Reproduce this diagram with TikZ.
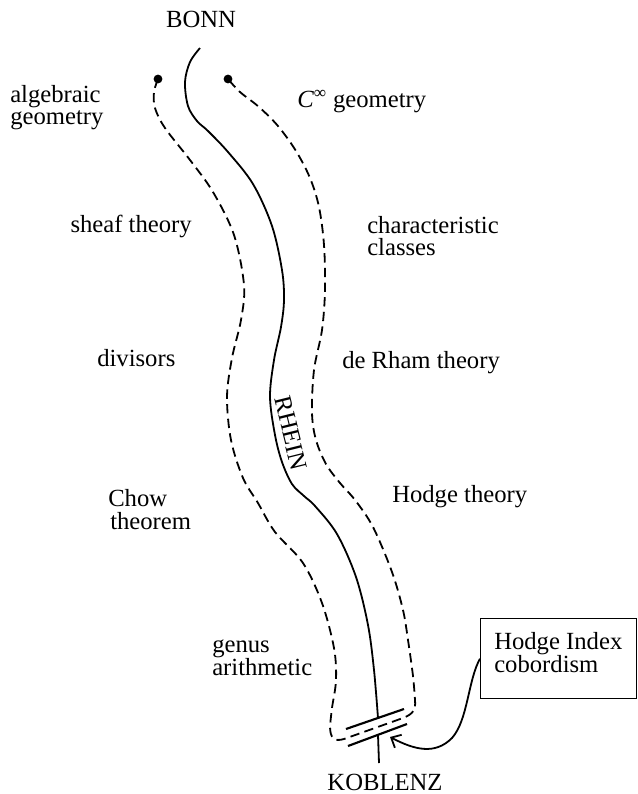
\documentclass[tikz,border=0pt]{standalone}
\usepackage{fontspec}
\setmainfont{Liberation Serif}
\usetikzlibrary{arrows.meta}
\begin{document}
\begin{tikzpicture}[x=0.75pt,y=-0.75pt,
  lbl/.style={inner sep=0pt, font=\fontsize{18.5}{22}\selectfont},
  river/.style={line width=1.35pt},
  bank/.style={line width=1.35pt, dash pattern=on 7pt off 4pt},
  bridge/.style={line width=1.6pt},
  frame/.style={draw, line width=1pt, inner sep=0pt}]
\useasboundingbox (0,0) rectangle (637,794);

% labels
\node[lbl, anchor=base] (bonn) at (201,27) {BONN};
\node[lbl, anchor=base] (koblenz) at (385,790) {KOBLENZ};
\node[lbl, anchor=base west] (alg1) at (10,102) {algebraic};
\node[lbl, anchor=base west] (alg2) at (10,124) {geometry};
\node[lbl, anchor=base west] (cinf) at (297,107) {\textit{C}\textsuperscript{∞} geometry};
\node[lbl, anchor=base east] (sheaf) at (192,232) {sheaf theory};
\node[lbl, anchor=base west] (char1) at (367,233) {characteristic};
\node[lbl, anchor=base west] (char2) at (367,255) {classes};
\node[lbl, anchor=base west] (div) at (97,366) {divisors};
\node[lbl, anchor=base west] (rham) at (342,368) {de Rham theory};
\node[lbl, anchor=base west] (hodge) at (392,502) {Hodge theory};
\node[lbl, anchor=base west] (chow1) at (108,506) {Chow};
\node[lbl, anchor=base west] (chow2) at (110,529) {theorem};
\node[lbl, anchor=base west] (genus1) at (212,652) {genus};
\node[lbl, anchor=base west] (genus2) at (212,675) {arithmetic};
\node[lbl, rotate=-76] (rhein) at (291,433) {RHEIN};

% box
\node[frame, anchor=north west, minimum width=117pt, minimum height=60pt] (box) at (480,618) {};
\node[lbl, anchor=base west] (hi1) at (494,649) {Hodge Index};
\node[lbl, anchor=base west] (hi2) at (494,672) {cobordism};

% river
\draw[river] plot[smooth, tension=0.55] coordinates {(200,48) (190,62) (185,82) (188,106) (197,121) (208,131) (228,152) (253,184) (272,226) (282,270) (284,300) (281,327) (274,360) (270,397) (275,435) (282,462) (292,484) (304,496) (315,506) (337,534) (356,577) (368,625) (374,670) (378,718)};
\draw[river] (378,735) -- (379,763);

% banks
\fill (158,79) circle (3.3pt);
\fill (228,79) circle (3.3pt);
\draw[bank] plot[smooth, tension=0.55] coordinates {(158,79) (154,92) (155,108) (165,128) (190,160) (213,192) (234,235) (244,285) (241,320) (232,358) (227,397) (231,440) (243,478) (258,503) (275,532) (303,563) (322,603) (334,648) (336,680) (332,708) (330,726)}
  .. controls (330,738) and (334,742) .. (344,739)
  -- (403,718)
  .. controls (413,714) and (416,710) .. (415,700)
  -- plot[smooth, tension=0.55] coordinates {(415,700) (413,676) (408,640) (403,610) (392,572) (373,527) (355,500) (340,483) (326,464) (316,440) (312,413) (314,370) (322,330) (325,290) (324,245) (319,207) (310,178) (296,151) (278,126) (259,107) (240,92) (228,79)};

% bridge
\draw[bridge] (346,729) -- (404,709);
\draw[bridge] (348,746) -- (407,724);

% arrow
\coordinate (tip) at (390,737);
\draw[river, -{Straight Barb[length=6pt,width=11pt]}] (box.west) .. controls (468,680) and (468,720) .. (452,738) .. controls (435,755) and (415,750) .. (tip);
\end{tikzpicture}
\end{document}
